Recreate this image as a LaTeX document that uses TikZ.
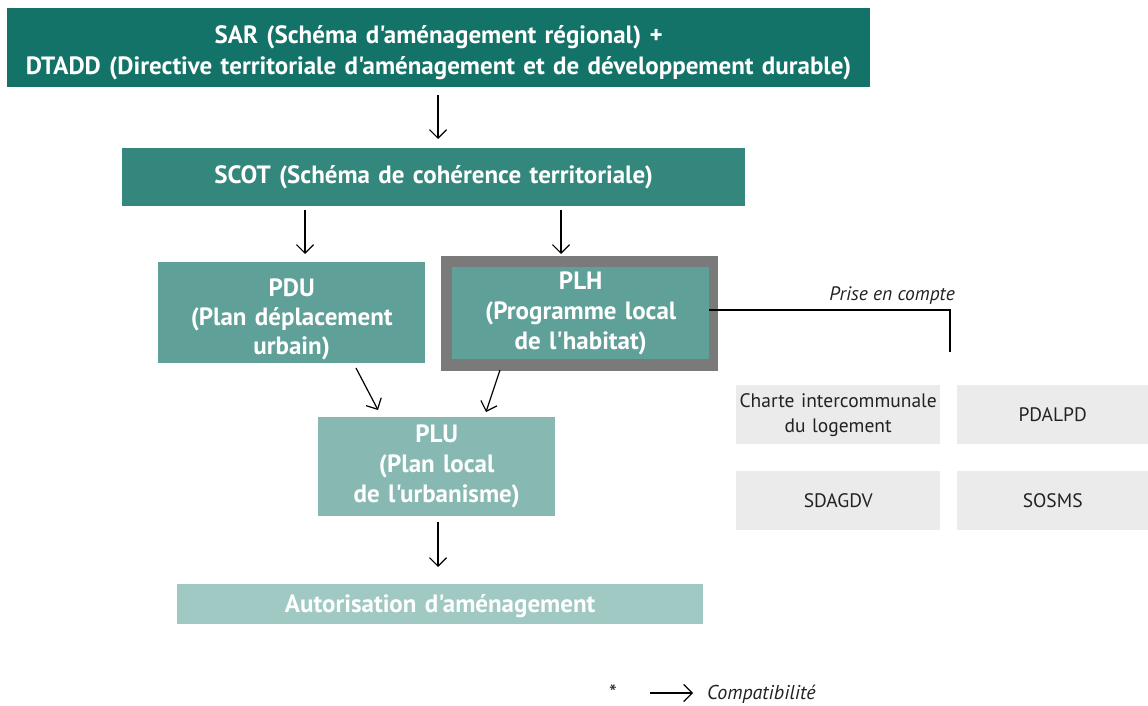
\documentclass[tikz,border=0pt]{standalone}
\usepackage{fontspec}
\setmainfont{PT Sans}[Ligatures=TeXOff]
\usetikzlibrary{arrows.meta}
\definecolor{c1}{HTML}{137368}
\definecolor{c2}{HTML}{33877C}
\definecolor{c3}{HTML}{5FA098}
\definecolor{c4}{HTML}{87B9B2}
\definecolor{c5}{HTML}{A0C9C3}
\definecolor{gb}{HTML}{EBEBEB}
\definecolor{gframe}{HTML}{7A7A7A}
\definecolor{tx}{HTML}{222222}
\begin{document}
\begin{tikzpicture}[x=1pt,y=-1pt,
  box/.style={anchor=north west,inner sep=0pt,text=white,align=center,
    font=\fontsize{25}{30}\selectfont\bfseries},
  gbox/.style={anchor=north west,inner sep=0pt,fill=gb,text=tx,align=center,
    font=\fontsize{19.5}{25}\selectfont,minimum width=204pt,minimum height=59pt,text width=204pt},
  arr/.style={draw=black,line width=1.2pt,-{Straight Barb[length=8.5pt,width=17pt,line width=1.2pt]}},
  lnk/.style={draw=black,line width=1.2pt}]
\useasboundingbox (0,0) rectangle (1148,706);
\node[box,fill=c1,minimum width=863pt,minimum height=79pt,text width=863pt,
  font=\fontsize{25}{31}\selectfont\bfseries] (sar) at (7,8)
  {\rule{0pt}{28pt}SAR (Schéma d'aménagement régional) +\\DTADD (Directive territoriale d'aménagement et de développement durable)};
\node[box,fill=c2,minimum width=623pt,minimum height=58pt,text width=623pt] (scot) at (122,148)
  {SCOT (Schéma de cohérence territoriale)};
\node[box,fill=c3,minimum width=267pt,minimum height=101pt,text width=267pt,
  font=\fontsize{25}{29}\selectfont\bfseries] (pdu) at (158,262)
  {\rule{0pt}{32pt}PDU\\(Plan déplacement\\urbain)};
\node[anchor=north west,inner sep=0pt,fill=gframe,minimum width=277pt,minimum height=115pt] (plhf) at (441,256) {};
\node[box,fill=c3,minimum width=257pt,minimum height=92pt,text width=257pt] (plh) at (452,267)
  {PLH\\(Programme local\\de l'habitat)};
\node[box,fill=c4,minimum width=237pt,minimum height=99pt,text width=237pt] (plu) at (318,417)
  {PLU\\(Plan local\\de l'urbanisme)};
\node[box,fill=c5,minimum width=526pt,minimum height=40pt,text width=526pt] (aut) at (177,584)
  {\rule{0pt}{21pt}Autorisation d'aménagement};
\node[gbox] (charte) at (736,385) {Charte intercommunale\\du logement};
\node[gbox,minimum width=191pt,text width=191pt] (pdalpd) at (957,385) {PDALPD};
\node[gbox] (sdagdv) at (736,471) {SDAGDV};
\node[gbox,minimum width=191pt,text width=191pt] (sosms) at (957,471) {SOSMS};
% arrows
\coordinate (a1s) at (438,95); \coordinate (a1e) at (438,139);
\draw[arr] (a1s) -- (a1e);
\coordinate (a2s) at (305,210); \coordinate (a2e) at (305,254);
\draw[arr] (a2s) -- (a2e);
\coordinate (a3s) at (561,210); \coordinate (a3e) at (561,254);
\draw[arr] (a3s) -- (a3e);
\coordinate (a4s) at (356,368); \coordinate (a4e) at (378,410);
\draw[arr] (a4s) -- (a4e);
\coordinate (a5s) at (500,370); \coordinate (a5e) at (486,412);
\draw[arr] (a5s) -- (a5e);
\coordinate (a6s) at (438,522); \coordinate (a6e) at (438,567);
\draw[arr] (a6s) -- (a6e);
% prise en compte
\coordinate (pc) at (950,352);
\draw[lnk] (plh.east |- 0,310) -- (950,310) -- (pc);
\node[anchor=base east,inner sep=0pt,font=\fontsize{19.5}{22}\selectfont\itshape,text=tx] (pct) at (955,300) {Prise en compte};
% legend
\node[anchor=base,inner sep=0pt,font=\fontsize{22}{24}\selectfont,text=tx] (star) at (613,700) {*};
\coordinate (ls) at (650,693); \coordinate (le) at (693,693);
\draw[arr] (ls) -- (le);
\node[anchor=base west,inner sep=0pt,font=\fontsize{20}{22}\selectfont\itshape,text=tx] (comp) at (707,699) {Compatibilité};
\end{tikzpicture}
\end{document}
